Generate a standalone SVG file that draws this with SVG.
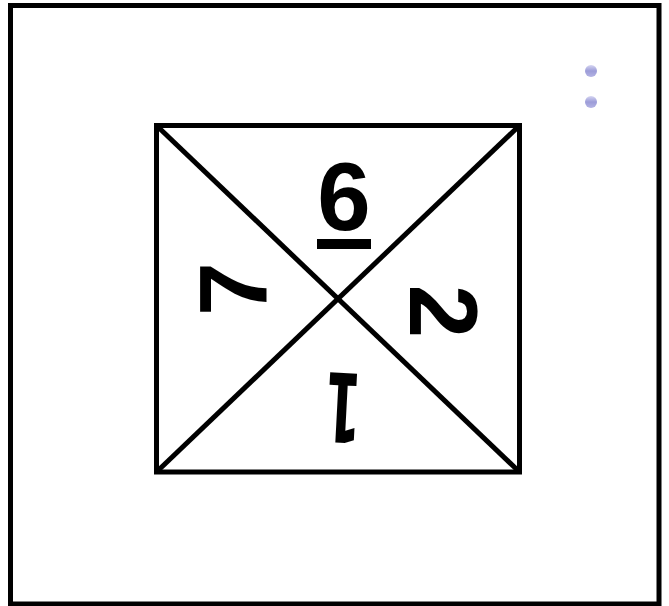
<svg xmlns="http://www.w3.org/2000/svg" width="669" height="606" viewBox="0 0 669 606">
  <style>
    .frame { fill: #ffffff; stroke: #000000; stroke-width: 5; }
    .line { stroke: #000000; stroke-width: 5; fill: none; }
    .num { font-family: "Liberation Sans", Arial, sans-serif; font-weight: bold; font-size: 96px; fill: #000000; text-anchor: middle; }
    .num1 { font-family: "DejaVu Sans", sans-serif; font-weight: bold; font-size: 96px; fill: #000000; text-anchor: middle; }
  </style>
  <defs>
    <linearGradient id="dotGrad" x1="0" y1="0" x2="0" y2="1">
      <stop offset="0" stop-color="#d6d6f2"/>
      <stop offset="0.5" stop-color="#9c9cd8"/>
      <stop offset="1" stop-color="#b4b4e4"/>
    </linearGradient>
  </defs>
  <rect width="669" height="606" fill="#ffffff"/>
  <g id="outer-frame">
    <rect class="frame" x="10.5" y="5.5" width="648.5" height="598.5"/>
  </g>
  <g id="bullets">
    <circle cx="591" cy="71" r="6" fill="url(#dotGrad)"/>
    <circle cx="591" cy="102" r="6" fill="url(#dotGrad)"/>
  </g>
  <g id="square">
    <rect class="frame" x="156.5" y="125.5" width="363" height="346.5"/>
  </g>
  <g id="connectors">
    <line class="line" x1="156.5" y1="125.5" x2="519.5" y2="472"/>
    <line class="line" x1="519.5" y1="125.5" x2="156.5" y2="472"/>
  </g>
  <g id="label-6">
    <text class="num" x="344" y="230">6</text>
    <rect x="317" y="239" width="54" height="10" fill="#000000"/>
  </g>
  <g id="label-7">
    <text class="num" transform="translate(233,289) rotate(-90)" x="0" y="34.4">7</text>
  </g>
  <g id="label-2">
    <text class="num" transform="translate(444,311.5) rotate(90)" x="0" y="34.4">2</text>
  </g>
  <g id="label-1">
    <text class="num1" transform="translate(343,408) rotate(183) scale(0.55,1)" x="0" y="35">1</text>
  </g>
</svg>
